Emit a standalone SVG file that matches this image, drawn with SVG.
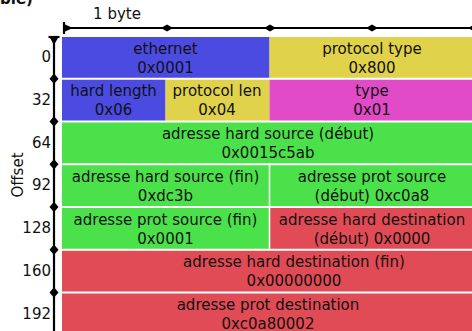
<svg xmlns="http://www.w3.org/2000/svg" width="472" height="331" viewBox="0 0 472 331">
  <style>
    text { font-family: "DejaVu Sans", "Liberation Sans", sans-serif; font-size: 15px; fill: #111; }
    .c { text-anchor: middle; }
    .off { text-anchor: end; }
    .blue { fill: #4b4be2; }
    .yellow { fill: #e1d24b; }
    .magenta { fill: #e14bc8; }
    .green { fill: #4be14b; }
    .red { fill: #e14b55; }
    .axis { stroke: #000; stroke-width: 2.2; fill: none; }
    .sep { stroke: #fff; stroke-width: 1.6; }
  </style>

  <!-- cropped caption at the top edge -->
  <text x="0" y="4" style="font-weight:bold">ble)</text>

  <!-- rulers -->
  <g id="connectors">
    <!-- horizontal byte ruler -->
    <line class="axis" x1="64" y1="28" x2="474" y2="28"/>
    <line class="axis" x1="64" y1="22" x2="64" y2="34"/>
    <polygon points="64,24 73,28 64,32"/>
    <polygon points="161,28 167,24.5 173,28 167,31.5"/>
    <polygon points="264,28 270,24.5 276,28 270,31.5"/>
    <polygon points="366,28 372,24.5 378,28 372,31.5"/>
    <polygon points="468,28 474,24.5 480,28 474,31.5"/>
    <text class="c" x="117" y="19">1 byte</text>

    <!-- vertical offset ruler -->
    <line class="axis" x1="54" y1="37" x2="54" y2="331"/>
    <line class="axis" x1="48.5" y1="37" x2="59.5" y2="37"/>
    <polygon points="49.5,37 54,45 58.5,37"/>
    <polygon points="54,73.5 58.5,78.75 54,84 49.5,78.75"/>
    <polygon points="54,116.25 58.5,121.5 54,126.75 49.5,121.5"/>
    <polygon points="54,159 58.5,164.25 54,169.5 49.5,164.25"/>
    <polygon points="54,201.75 58.5,207 54,212.25 49.5,207"/>
    <polygon points="54,244.5 58.5,249.75 54,255 49.5,249.75"/>
    <polygon points="54,287.25 58.5,292.5 54,297.75 49.5,292.5"/>
    <text class="c" transform="translate(23,175) rotate(-90)">Offset</text>
  </g>

  <!-- offset labels -->
  <g id="offsets">
    <text class="off" x="51" y="62">0</text>
    <text class="off" x="51" y="104.75">32</text>
    <text class="off" x="51" y="147.5">64</text>
    <text class="off" x="51" y="190.25">92</text>
    <text class="off" x="51" y="233">128</text>
    <text class="off" x="51" y="275.75">160</text>
    <text class="off" x="51" y="318.5">192</text>
  </g>

  <!-- offset 0 -->
  <g id="ethernet">
    <rect class="blue" x="62" y="37" width="207.5" height="40.75"/>
    <text class="c" x="165.5" y="53.5">ethernet</text>
    <text class="c" x="165.5" y="72.5">0x0001</text>
  </g>
  <g id="protocol-type">
    <rect class="yellow" x="269.5" y="37" width="206" height="40.75"/>
    <text class="c" x="372" y="53.5">protocol type</text>
    <text class="c" x="372" y="72.5">0x800</text>
  </g>

  <!-- offset 32 -->
  <g id="hard-length">
    <rect class="blue" x="62" y="79.75" width="103.5" height="40.75"/>
    <text class="c" x="113.5" y="96.25">hard length</text>
    <text class="c" x="113.5" y="115.25">0x06</text>
  </g>
  <g id="protocol-len">
    <rect class="yellow" x="165.5" y="79.75" width="104" height="40.75"/>
    <text class="c" x="217" y="96.25">protocol len</text>
    <text class="c" x="217" y="115.25">0x04</text>
  </g>
  <g id="type">
    <rect class="magenta" x="269.5" y="79.75" width="206" height="40.75"/>
    <text class="c" x="372" y="96.25">type</text>
    <text class="c" x="372" y="115.25">0x01</text>
  </g>

  <!-- offset 64 -->
  <g id="hard-source-start">
    <rect class="green" x="62" y="122.5" width="413.5" height="40.75"/>
    <text class="c" x="268" y="139">adresse hard source (début)</text>
    <text class="c" x="268" y="158">0x0015c5ab</text>
  </g>

  <!-- offset 92 -->
  <g id="hard-source-end">
    <rect class="green" x="62" y="165.25" width="207.5" height="40.75"/>
    <text class="c" x="165.5" y="181.75">adresse hard source (fin)</text>
    <text class="c" x="165.5" y="200.75">0xdc3b</text>
  </g>
  <g id="prot-source-start">
    <rect class="green" x="269.5" y="165.25" width="206" height="40.75"/>
    <text class="c" x="372" y="181.75">adresse prot source</text>
    <text class="c" x="372" y="200.75">(début) 0xc0a8</text>
  </g>

  <!-- offset 128 -->
  <g id="prot-source-end">
    <rect class="green" x="62" y="208" width="207.5" height="40.75"/>
    <text class="c" x="165.5" y="224.5">adresse prot source (fin)</text>
    <text class="c" x="165.5" y="243.5">0x0001</text>
  </g>
  <g id="hard-dest-start">
    <rect class="red" x="269.5" y="208" width="206" height="40.75"/>
    <text class="c" x="372" y="224.5">adresse hard destination</text>
    <text class="c" x="372" y="243.5">(début) 0x0000</text>
  </g>

  <!-- offset 160 -->
  <g id="hard-dest-end">
    <rect class="red" x="62" y="250.75" width="413.5" height="40.75"/>
    <text class="c" x="294" y="267.25">adresse hard destination (fin)</text>
    <text class="c" x="294" y="286.25">0x00000000</text>
  </g>

  <!-- offset 192 -->
  <g id="prot-dest">
    <rect class="red" x="62" y="293.5" width="413.5" height="40.75"/>
    <text class="c" x="268" y="310">adresse prot destination</text>
    <text class="c" x="268" y="328.5">0xc0a80002</text>
  </g>

  <!-- field separators within rows -->
  <line class="sep" x1="269.5" y1="165.25" x2="269.5" y2="206"/>
  <line class="sep" x1="269.5" y1="208" x2="269.5" y2="248.75"/>
</svg>
